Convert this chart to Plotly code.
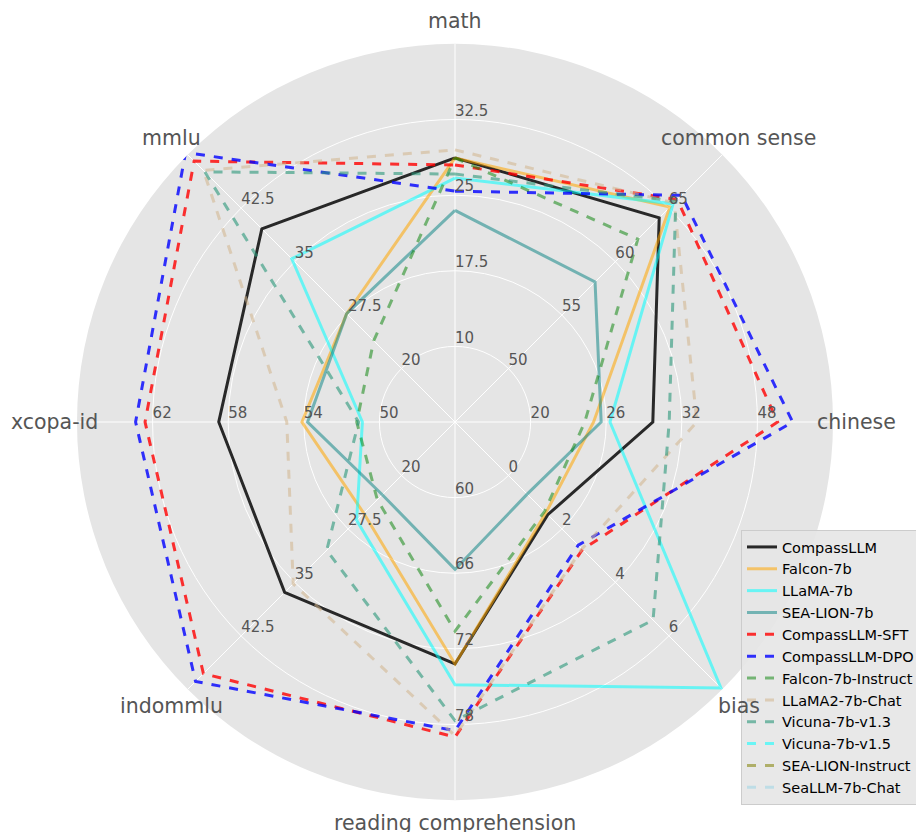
import math
import plotly.graph_objects as go

categories = ["math", "common sense", "chinese", "bias",
              "reading comprehension", "indommlu", "xcopa-id", "mmlu"]

# tick labels of each axis (ticks sit at 1/5 .. 4/5 of the radius)
tick_labels = {
    "math": ["10", "17.5", "25", "32.5"],
    "common sense": ["50", "55", "60", "65"],
    "chinese": ["20", "26", "32", "48"],
    "bias": ["0", "2", "4", "6"],
    "reading comprehension": ["60", "66", "72", "78"],
    "indommlu": ["20", "27.5", "35", "42.5"],
    "xcopa-id": ["50", "54", "58", "62"],
    "mmlu": ["20", "27.5", "35", "42.5"],
}
axis_first_tick = [10, 50, 20, 0, 60, 20, 50, 20]
axis_step = [7.5, 5, 6, 2, 6, 7.5, 4, 7.5]

series_names = ["CompassLLM", "Falcon-7b", "LLaMA-7b", "SEA-LION-7b",
                "CompassLLM-SFT", "CompassLLM-DPO", "Falcon-7b-Instruct",
                "LLaMA2-7b-Chat", "Vicuna-7b-v1.3", "Vicuna-7b-v1.5",
                "SEA-LION-Instruct", "SeaLLM-7b-Chat"]

compassllm = [28.7, 64.1, 29.7, 1.47, 73.2, 36.4, 58.5, 39.6]
falcon_7b = [28.7, 65.1, 25.0, 1.40, 73.2, 25.3, 54.1, 27.7]
llama_7b = [26.7, 65.4, 26.3, 7.95, 74.85, 26.3, 50.9, 35.4]
sea_lion_7b = [23.5, 58.1, 25.6, 0.70, 65.7, 22.7, 53.8, 27.7]
compassllm_sft = [28.0, 65.8, 39.6, 2.77, 79.0, 47.8, 62.4, 49.1]
compassllm_dpo = [25.4, 66.2, 40.8, 2.61, 78.5, 48.9, 62.9, 50.3]
falcon_7b_instruct = [28.7, 62.1, 24.3, 1.35, 70.6, 23.4, 51.2, 23.9]
llama2_7b_chat = [29.5, 65.5, 33.2, 2.75, 78.9, 35.2, 54.9, 47.8]
vicuna_7b_v13 = [27.1, 65.65, 31.0, 5.41, 77.7, 30.5, 51.1, 47.6]
vicuna_7b_v15 = [None] * 8
sea_lion_instruct = [None] * 8
seallm_7b_chat = [None] * 8

series_values = [compassllm, falcon_7b, llama_7b, sea_lion_7b, compassllm_sft,
                 compassllm_dpo, falcon_7b_instruct, llama2_7b_chat,
                 vicuna_7b_v13, vicuna_7b_v15, sea_lion_instruct, seallm_7b_chat]

colors = ["rgba(30,30,30,0.95)", "rgba(255,165,0,0.55)", "rgba(0,255,255,0.55)",
          "rgba(0,128,128,0.5)", "rgba(255,0,0,0.8)", "rgba(0,0,255,0.8)",
          "rgba(0,128,0,0.5)", "rgba(210,180,140,0.55)", "rgba(40,150,120,0.6)",
          "rgba(0,255,255,0.55)", "rgba(128,128,0,0.55)", "rgba(173,216,230,0.7)"]
dashes = ["solid"] * 4 + ["dash"] * 8

angles = [i * 360 / len(categories) for i in range(len(categories))]


def scale(v, i):
    if v is None:
        return None
    lo = axis_first_tick[i] - axis_step[i]
    return (v - lo) / (5 * axis_step[i])


fig = go.Figure()

for name, vals, col, dash in zip(series_names, series_values, colors, dashes):
    r = [scale(v, i) for i, v in enumerate(vals)]
    fig.add_trace(go.Scatterpolar(
        r=r + [r[0]], theta=angles + [angles[0]], mode="lines", name=name,
        line=dict(color=col, width=3, dash=dash), connectgaps=False,
    ))

# per-axis tick labels
for i, cat in enumerate(categories):
    labs = tick_labels[cat]
    fig.add_trace(go.Scatterpolar(
        r=[(k + 1) / 5 for k in range(len(labs))], theta=[angles[i]] * len(labs),
        mode="text", text=labs, textposition="top right",
        textfont=dict(family="DejaVu Sans", size=15, color="#555555"),
        showlegend=False, hoverinfo="skip",
    ))

W, H = 924, 832
cx, cy, R = 447, 414, 378   # page has an 8px body margin

# category labels placed just outside the disc
annotations = []
for a, cat in zip(angles, categories):
    rad = math.radians(a)
    px = cx + 401 * math.sin(rad)
    py = cy - 401 * math.cos(rad)
    annotations.append(dict(
        x=px / W, y=1 - py / H, xref="paper", yref="paper", text=cat,
        showarrow=False, xanchor="center", yanchor="middle",
        font=dict(family="DejaVu Sans", size=20.5, color="#555555"),
    ))

fig.update_layout(
    width=W, height=H,
    margin=dict(l=0, r=0, t=0, b=0, autoexpand=False),
    paper_bgcolor="white",
    font=dict(family="DejaVu Sans", color="#555555"),
    annotations=annotations,
    polar=dict(
        domain=dict(x=[(cx - R) / W, (cx + R) / W],
                    y=[(H - cy - R) / H, (H - cy + R) / H]),
        bgcolor="#E5E5E5",
        radialaxis=dict(range=[0, 1], tickvals=[0.2, 0.4, 0.6, 0.8],
                        showticklabels=False, ticks="", showline=False,
                        gridcolor="white", gridwidth=1),
        angularaxis=dict(rotation=90, direction="clockwise", tickmode="array",
                         tickvals=angles, showticklabels=False, ticks="",
                         showline=False, gridcolor="white", gridwidth=1),
    ),
    legend=dict(x=733 / W, y=1 - 522 / H, xanchor="left", yanchor="top",
                bgcolor="rgba(229,229,229,0.9)", bordercolor="#cccccc",
                borderwidth=1, font=dict(family="DejaVu Sans", size=14.5, color="black"),
                tracegroupgap=0),
    showlegend=True,
)

fig.write_html("out.html")
